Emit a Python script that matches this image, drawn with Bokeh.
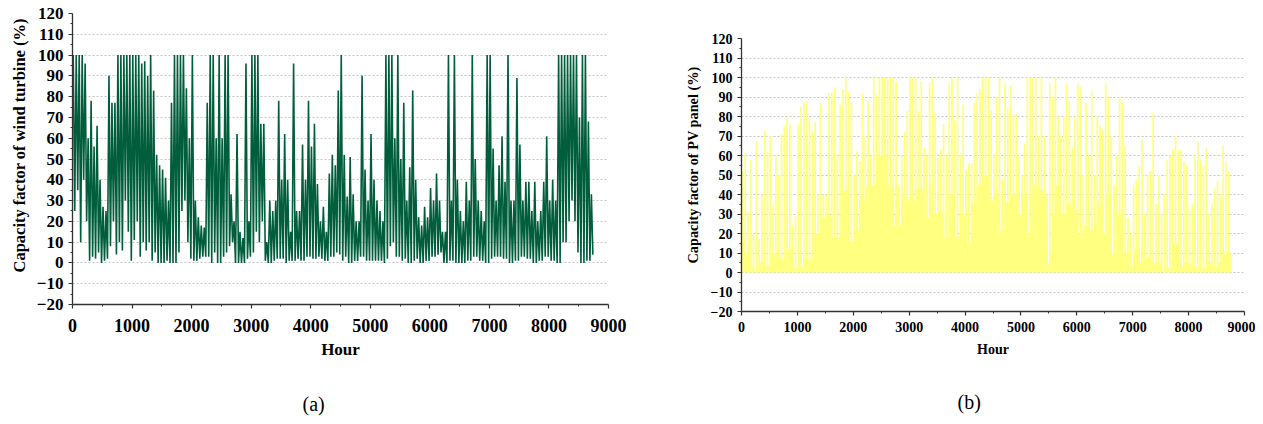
from bokeh.plotting import figure
from bokeh.layouts import row, column
from bokeh.models import Range1d, FixedTicker, Spacer, Title
from bokeh.embed import file_html
from bokeh.resources import INLINE

# ---- data: 50-hour bins, highest and lowest value in each ----
bin_start = list(range(0, 8750, 50))  # hours

wind_hi = [100, 100, 100, 100, 96, 60, 78, 56, 66, 40,
           27, 25, 90, 77, 77, 100, 100, 100, 100, 100,
           100, 100, 100, 96, 97, 90, 100, 83, 52, 47,
           45, 41, 30, 77, 100, 100, 100, 100, 84, 60,
           100, 30, 22, 18, 17, 77, 100, 100, 60, 100,
           60, 100, 100, 33, 20, 62, 15, 12, 96, 20,
           100, 100, 100, 67, 67, 10, 30, 25, 30, 78,
           40, 62, 40, 15, 96, 25, 25, 57, 40, 78,
           56, 67, 38, 20, 27, 15, 43, 52, 47, 83,
           100, 52, 32, 51, 33, 20, 20, 90, 45, 30,
           62, 40, 30, 25, 20, 100, 100, 100, 60, 100,
           50, 77, 30, 46, 83, 40, 22, 18, 27, 22,
           36, 30, 43, 30, 15, 15, 100, 30, 100, 40,
           25, 20, 39, 30, 100, 50, 30, 25, 20, 100,
           100, 55, 30, 47, 61, 39, 100, 30, 30, 89,
           57, 30, 39, 39, 25, 39, 20, 25, 39, 61,
           30, 40, 30, 100, 100, 100, 100, 100, 100, 100,
           70, 100, 100, 68, 33]
wind_lo = [25, 35, 10, 40, 20, 1, 3, 2, 5, 0,
           1, 2, 8, 20, 4, 10, 6, 30, 15, 1,
           11, 20, 3, 10, 6, 10, 1, 5, 0, 0,
           0, 1, 0, 0, 0, 5, 25, 30, 10, 2,
           1, 1, 2, 3, 3, 3, 0, 5, 0, 0,
           3, 5, 8, 10, 0, 0, 0, 0, 2, 3,
           5, 15, 10, 20, 1, 0, 0, 1, 2, 2,
           2, 0, 1, 1, 1, 2, 1, 1, 3, 3,
           2, 2, 3, 2, 1, 1, 3, 3, 5, 4,
           1, 3, 0, 0, 1, 1, 3, 3, 1, 1,
           1, 1, 1, 1, 0, 2, 8, 10, 3, 3,
           1, 2, 0, 0, 1, 2, 0, 0, 1, 1,
           3, 3, 4, 5, 0, 0, 1, 1, 0, 0,
           0, 0, 1, 1, 3, 3, 1, 1, 0, 0,
           2, 3, 3, 3, 2, 2, 0, 0, 1, 1,
           3, 3, 2, 2, 0, 0, 1, 1, 3, 3,
           1, 1, 0, 0, 10, 10, 20, 30, 20, 5,
           0, 0, 1, 1, 4]

pv_hi = [52, 61, 31, 58, 20, 67, 17, 40, 73, 62,
         70, 35, 60, 50, 71, 75, 79, 76, 24, 29,
         76, 85, 87, 88, 79, 72, 77, 40, 87, 40,
         40, 92, 92, 95, 60, 86, 94, 100, 93, 87,
         50, 62, 57, 92, 70, 88, 60, 100, 91, 100,
         100, 100, 100, 100, 100, 98, 45, 60, 72, 83,
         100, 100, 100, 83, 98, 64, 60, 97, 100, 82,
         59, 63, 76, 60, 97, 100, 78, 100, 60, 86,
         53, 56, 56, 87, 92, 94, 100, 100, 100, 83,
         61, 90, 100, 48, 97, 84, 96, 81, 81, 60,
         50, 66, 100, 100, 100, 100, 70, 100, 70, 40,
         97, 90, 100, 80, 70, 80, 97, 88, 64, 80,
         97, 95, 50, 87, 60, 93, 50, 80, 75, 73,
         97, 90, 70, 45, 60, 90, 87, 65, 28, 20,
         45, 48, 55, 68, 30, 50, 52, 82, 35, 50,
         30, 40, 58, 60, 63, 70, 63, 63, 57, 55,
         32, 35, 60, 67, 58, 55, 64, 30, 35, 43,
         47, 40, 65, 57, 52]
pv_lo = [18, 10, 15, 3, 1, 1, 5, 5, 3, 3,
         10, 10, 8, 8, 7, 7, 12, 12, 2, 2,
         3, 3, 7, 7, 7, 7, 20, 20, 28, 28,
         29, 29, 18, 18, 18, 18, 42, 42, 16, 16,
         22, 22, 38, 38, 44, 44, 45, 45, 60, 60,
         60, 60, 44, 44, 24, 40, 24, 40, 38, 38,
         37, 37, 43, 43, 43, 28, 28, 45, 30, 30,
         31, 31, 18, 18, 40, 40, 18, 18, 30, 30,
         15, 15, 35, 35, 45, 45, 50, 50, 37, 37,
         40, 40, 21, 21, 36, 36, 40, 40, 30, 30,
         40, 40, 20, 20, 45, 45, 42, 42, 40, 4,
         10, 30, 45, 45, 30, 30, 35, 35, 32, 32,
         20, 20, 24, 24, 22, 22, 25, 35, 35, 20,
         40, 40, 10, 10, 30, 30, 10, 10, 3, 3,
         12, 12, 5, 5, 8, 8, 5, 5, 5, 5,
         0, 2, 2, 2, 15, 15, 3, 3, 5, 5,
         4, 4, 3, 3, 2, 2, 5, 5, 3, 3,
         5, 5, 10, 10, 10]

series_end = 8760

y_major = list(range(-20, 121, 10))
y_minor = list(range(-15, 120, 10))
y_grid = list(range(-10, 111, 10))
x_major = list(range(0, 9001, 1000))
x_minor = list(range(500, 9000, 1000))

FONT = "Liberation Serif"


def zigzag(hi, lo, off_hi, off_lo):
    xs, ys = [], []
    for s, h, l in zip(bin_start, hi, lo):
        xs += [s + off_hi, s + off_lo]
        ys += [h, l]
    return xs, ys


def make_fig(fw, fh, bl, bt, br, bb, ytick_fs, xtick_fs, lab_fs,
             xtick_standoff, xlab_standoff):
    p = figure(frame_width=fw, frame_height=fh,
               min_border_left=bl, min_border_top=bt, min_border_right=br,
               min_border_bottom=bb,
               x_range=Range1d(0, 9000), y_range=Range1d(-20, 120),
               output_backend="svg", toolbar_location=None)
    p.outline_line_color = None
    p.background_fill_color = "white"
    p.border_fill_color = "white"
    p.xgrid.visible = False
    p.ygrid.ticker = FixedTicker(ticks=y_grid)
    p.ygrid.grid_line_color = "#C4C4C4"
    p.ygrid.grid_line_dash = "2 2"
    p.ygrid.grid_line_width = 1

    p.yaxis.ticker = FixedTicker(ticks=y_major, minor_ticks=y_minor)
    p.xaxis.ticker = FixedTicker(ticks=x_major, minor_ticks=x_minor)
    for ax in (p.xaxis[0], p.yaxis[0]):
        ax.axis_line_color = "#333333"
        ax.axis_line_width = 1.3
        ax.major_tick_line_color = "#333333"
        ax.minor_tick_line_color = "#333333"
        ax.major_tick_line_width = 1.2
        ax.minor_tick_line_width = 1.0
        ax.major_tick_in = 0
        ax.major_tick_out = 4
        ax.minor_tick_in = 0
        ax.minor_tick_out = 2
        ax.major_label_text_font = FONT
        ax.major_label_text_font_style = "bold"
        ax.major_label_text_color = "black"
        ax.axis_label_text_font = FONT
        ax.axis_label_text_font_style = "bold"
        ax.axis_label_text_color = "black"
        ax.axis_label_text_font_size = lab_fs
    p.yaxis.major_label_text_font_size = ytick_fs
    p.xaxis.major_label_text_font_size = xtick_fs
    p.yaxis.major_label_standoff = 5
    p.xaxis.axis_label = "Hour"
    p.xaxis.major_label_standoff = xtick_standoff
    p.xaxis.axis_label_standoff = xlab_standoff
    return p


def side_title(p, text, place, size, bold, offset, standoff):
    p.add_layout(Title(text=text, align="left", offset=offset,
                       standoff=standoff, text_font=FONT,
                       text_font_size=size,
                       text_font_style="bold" if bold else "normal",
                       text_color="black"), place)


# ---- (a) wind turbine ----
pa = make_fig(536, 291, 72, 13, 32, 100, "17px", "18px", "17px", 10, 5)
wx, wy = zigzag(wind_hi, wind_lo, 12.5, 37.5)
pa.line(wx, wy, line_color="#005E3C", line_width=1.6)
side_title(pa, "Capacity factor of wind turbine (%)", "left", "16.5px", True, 32, 9)
side_title(pa, "(a)", "below", "20px", False, 230, 59)

# ---- (b) PV panel ----
pb = make_fig(503, 273, 101, 5, 11, 90, "14px", "14px", "14px", 6, 7)
px, py = zigzag(pv_hi, pv_lo, 0, 32)
px = px + [series_end]
py = py + [0]
pb.varea_step(x=px, y1=[0] * len(px), y2=py, step_mode="after",
              fill_color="#FFFF80")
side_title(pb, "Capacity factor of PV panel (%)", "left", "14.3px", True, 48, 14)
side_title(pb, "(b)", "below", "20px", False, 216, 59)

layout = row(pa, column(Spacer(width=615, height=33), pb))
open("out.html", "w").write(file_html(layout, INLINE))
